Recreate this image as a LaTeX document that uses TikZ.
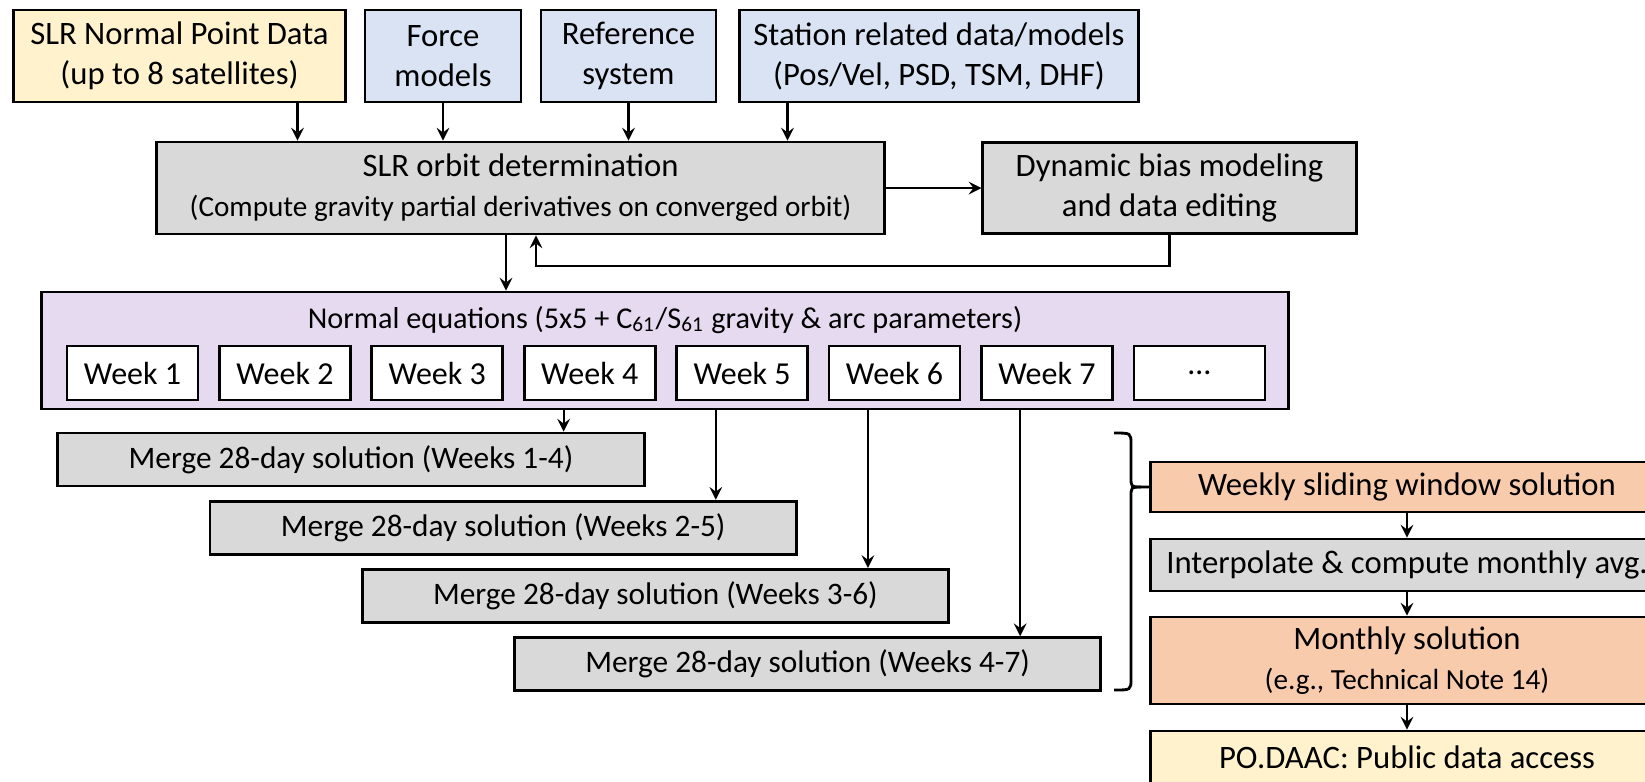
\documentclass[tikz,border=0pt]{standalone}
\usepackage{fontspec}
\setmainfont{Carlito}
\usetikzlibrary{calc}
\definecolor{cyellow}{HTML}{FFF2CC}
\definecolor{cblue}{HTML}{DAE3F3}
\definecolor{cgray}{HTML}{D9D9D9}
\definecolor{cpurple}{HTML}{E6DAF0}
\definecolor{corange}{HTML}{F8CBAD}
\newcommand{\sline}[1]{{\fontsize{8.3}{11.4}\selectfont #1}}
\tikzset{
	box/.style={draw,line width=0.8pt,align=center,inner sep=0pt,font=\fontsize{9.3}{11.4}\selectfont},
	weekbox/.style={box,fill=white,minimum width=1.31cm,minimum height=0.54cm,font=\fontsize{9.1}{11}\selectfont},
	mergebox/.style={box,fill=cgray,minimum width=5.86cm,minimum height=0.53cm,font=\fontsize{8.9}{11}\selectfont},
	rbox/.style={box,minimum width=5.12cm}
}
\begin{document}
\begin{tikzpicture}[x=0.01cm,y=-0.01cm,>=stealth,line width=0.6pt]
	\useasboundingbox (0,0) rectangle (1645,781);
	\clip (0,0) rectangle (1645,781);
	% inputs
	\node[box,fill=cyellow,minimum width=3.31cm,minimum height=0.92cm] (np) at (179.5,56) {SLR Normal Point Data\\(up to 8 satellites)};
	\node[box,fill=cblue,minimum width=1.56cm,minimum height=0.92cm] (force) at (443,56) {Force\\models};
	\node[box,fill=cblue,minimum width=1.75cm,minimum height=0.92cm] (refsys) at (628.5,56) {Reference\\system};
	\node[box,fill=cblue,minimum width=3.98cm,minimum height=0.92cm] (station) at (939,56) {Station related data/models\\(Pos/Vel, PSD, TSM, DHF)};
	% orbit determination
	\node[box,fill=cgray,minimum width=7.27cm,minimum height=0.92cm] (orbit) at (520.5,188) {SLR orbit determination\\\sline{(Compute gravity partial derivatives on converged orbit)}};
	\node[box,fill=cgray,minimum width=3.73cm,minimum height=0.91cm] (bias) at (1169.5,188) {Dynamic bias modeling\\and data editing};
	\path
	($(np.south east)+(-49,0)$) coordinate (a1)
	(force.south) coordinate (a2)
	(refsys.south) coordinate (a3)
	($(station.south west)+(49,0)$) coordinate (a4)
	;
	\foreach \x in {a1,a2,a3,a4}\draw[->] (\x) -- (\x |- orbit.north);
	\draw[->] (orbit.east) -- (bias.west);
	\draw[->] (bias.south) -- ++(0,31) -| (536,0 |- orbit.south);
	% normal equations
	\node[box,fill=cpurple,minimum width=12.46cm,minimum height=1.17cm] (neq) at (665,350.5) {};
	\node[font=\fontsize{8.6}{11}\selectfont] (neqtitle) at (665,320) {Normal equations (5x5 + C\textsubscript{61}/S\textsubscript{61} gravity \& arc parameters)};
	\draw[->] (506,0 |- orbit.south) -- (506,0 |- neq.north);
	\foreach \i in {1,...,7}\node[weekbox] (w\i) at ({132.5+152.4*(\i-1)},373) {Week \i};
	\node[weekbox] (w8) at (1199.5,373) {…};
	% 28-day merges
	\foreach \i/\a/\b in {1/1/4,2/2/5,3/3/6,4/4/7}{
		\node[mergebox] (m\i) at ({351+152.2*(\i-1)},{459.5+68.2*(\i-1)}) {Merge 28-day solution (Weeks \a-\b)};
		\path ($(m\i.north east)+(-82,0)$) coordinate (t\i);
		\draw[->] (t\i |- neq.south) -- (t\i);
	}
	% monthly products
	\node[rbox,fill=corange,minimum height=0.50cm] (ws) at (1407,487) {Weekly sliding window solution};
	\node[rbox,fill=cgray,minimum height=0.52cm] (interp) at (1407,565) {Interpolate \& compute monthly avg.};
	\node[rbox,fill=corange,minimum height=0.87cm] (month) at (1407,660.5) {Monthly solution\\\sline{(e.g., Technical Note 14)}};
	\node[rbox,fill=cyellow,minimum height=0.52cm] (podaac) at (1407,757) {PO.DAAC: Public data access};
	\draw[->] (ws.south) -- (interp.north);
	\draw[->] (interp.south) -- (month.north);
	\draw[->] (month.south) -- (podaac.north);
	% brace
	\draw[line width=0.8pt] (1114,433) .. controls (1131,433) .. (1131,444) -- (1131,477) .. controls (1131,487) .. (1141,487) -- (ws.west);
	\draw[line width=0.8pt] (1141,487) .. controls (1131,487) .. (1131,497) -- (1131,679) .. controls (1131,690) .. (1114,690);
\end{tikzpicture}
\end{document}
